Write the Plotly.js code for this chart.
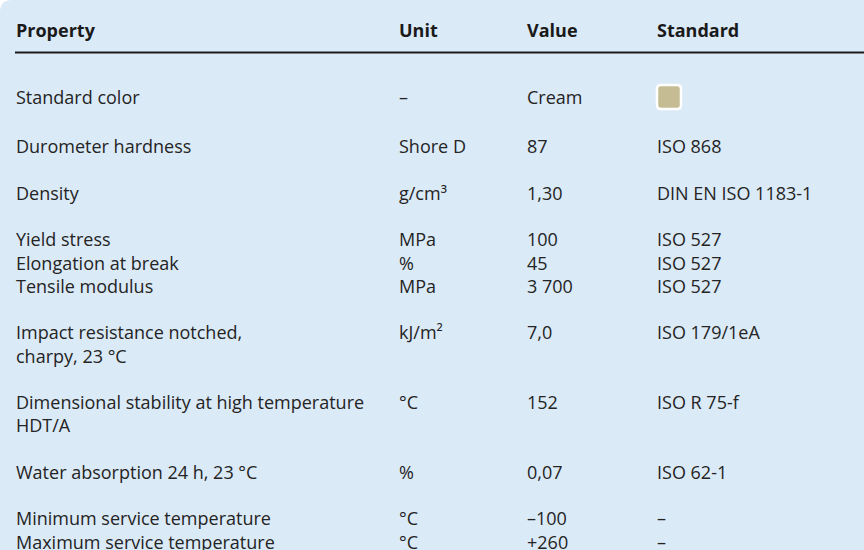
<!DOCTYPE html>
<html>
<head>
<meta charset="utf-8">
<script src="https://cdn.plot.ly/plotly-3.0.1.min.js"></script>
<style>html,body{margin:0;padding:0;background:#fff;}#chart{width:864px;height:550px;}</style>
</head>
<body>
<div id="chart"></div>
<script>
// ---- data ----
const headers = ["Property", "Unit", "Value", "Standard"];
// groups of rows, separated by a blank line
const propertyGroups = [
  [["Standard color"]],
  [["Durometer hardness"]],
  [["Density"]],
  [["Yield stress"], ["Elongation at break"], ["Tensile modulus"]],
  [["Impact resistance notched,", "charpy, 23 °C"]],
  [["Dimensional stability at high temperature", "HDT/A"]],
  [["Water absorption 24 h, 23 °C"]],
  [["Minimum service temperature"], ["Maximum service temperature"]]
];
const units = ["–", "Shore D", "g/cm³", "MPa", "%", "MPa", "kJ/m²", "°C", "%", "°C", "°C"];
const values = ["Cream", "87", "1,30", "100", "45", "3 700", "7,0", "152", "0,07", "–100", "+260"];
const standards = ["", "ISO 868", "DIN EN ISO 1183-1", "ISO 527", "ISO 527", "ISO 527", "ISO 179/1eA", "ISO R 75-f", "ISO 62-1", "–", "–"];
const colorSwatch = "#c5bc94";

// ---- layout helpers ----
const colX = [16, 399, 527, 657];
const headerY = 32.5, lineStep = 23.25, firstSlot = 2.9;

const propText = [], propY = [], rowY = [];
let slot = firstSlot;
propertyGroups.forEach((g, gi) => {
  g.forEach(row => {
    rowY.push(headerY + slot * lineStep);
    row.forEach(line => {
      propText.push(line);
      propY.push(headerY + slot * lineStep);
      slot += 1;
    });
  });
  slot = Math.round(slot) + 1;
});

const font = {family: "Open Sans, sans-serif", size: 18, color: "#242424"};
const baseTrace = {type: "scatter", mode: "text", textposition: "middle right", hoverinfo: "skip", showlegend: false, textfont: font};

const traces = [
  Object.assign({}, baseTrace, {x: headers.map((h, i) => colX[i]), y: headers.map(() => headerY),
    text: headers.map(h => "<b>" + h + "</b>"), textfont: Object.assign({}, font, {color: "#1a1a1a"})}),
  Object.assign({}, baseTrace, {x: propText.map(() => colX[0]), y: propY, text: propText}),
  Object.assign({}, baseTrace, {x: units.map(() => colX[1]), y: rowY, text: units}),
  Object.assign({}, baseTrace, {x: values.map(() => colX[2]), y: rowY, text: values}),
  Object.assign({}, baseTrace, {x: standards.map(() => colX[3]), y: rowY, text: standards})
];

// rounded swatch
const sx0 = 657, sy0 = 85, s = 24, r = 4;
const swPath = `M ${sx0+r},${sy0} L ${sx0+s-r},${sy0} Q ${sx0+s},${sy0} ${sx0+s},${sy0+r} L ${sx0+s},${sy0+s-r} Q ${sx0+s},${sy0+s} ${sx0+s-r},${sy0+s} L ${sx0+r},${sy0+s} Q ${sx0},${sy0+s} ${sx0},${sy0+s-r} L ${sx0},${sy0+r} Q ${sx0},${sy0} ${sx0+r},${sy0} Z`;
const R = 12;
const bgPath = `M ${R},0 L 864,0 L 864,550 L 0,550 L 0,${R} Q 0,0 ${R},0 Z`;

const layout = {
  width: 864, height: 550,
  margin: {l: 0, r: 0, t: 0, b: 0},
  paper_bgcolor: "#ffffff", plot_bgcolor: "rgba(0,0,0,0)",
  xaxis: {range: [0, 864], visible: false, fixedrange: true},
  yaxis: {range: [550, 0], visible: false, fixedrange: true},
  shapes: [
    {type: "path", path: bgPath, xref: "x", yref: "y", fillcolor: "#dbeaf7", line: {width: 0}, layer: "below"},
    {type: "line", x0: 15, x1: 864, y0: 52.5, y1: 52.5, xref: "x", yref: "y", line: {color: "#1c1c1c", width: 2}},
    {type: "path", path: swPath, xref: "x", yref: "y", fillcolor: colorSwatch, line: {color: "#ffffff", width: 2.5}}
  ]
};

Plotly.newPlot("chart", traces, layout, {staticPlot: true, displayModeBar: false});
</script>
</body>
</html>
